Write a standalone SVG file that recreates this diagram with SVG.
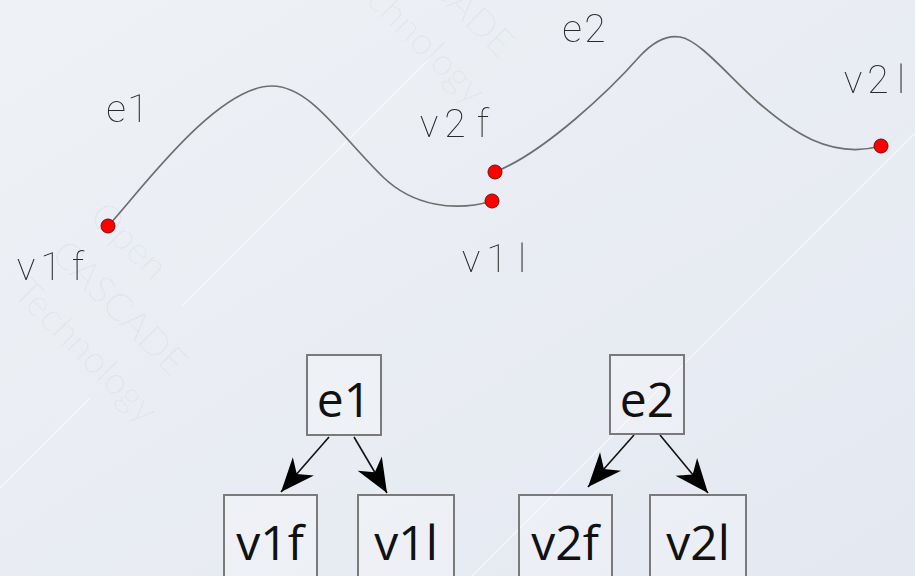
<svg xmlns="http://www.w3.org/2000/svg" width="915" height="576" viewBox="0 0 915 576">
  <defs>
    <linearGradient id="bg" x1="0" y1="0" x2="1" y2="1">
      <stop offset="0" stop-color="#eef1f5"/>
      <stop offset="1" stop-color="#e4e8f1"/>
    </linearGradient>
    <filter id="flat" x="0" y="0" width="1" height="1">
      <feOffset dx="0" dy="0"/>
    </filter>
    <marker id="arrow" viewBox="-37 -16 39 32" refX="0" refY="0" markerWidth="39" markerHeight="32" markerUnits="userSpaceOnUse" orient="auto">
      <path d="M0,0 L-34,-14 L-24,0 L-34,14 Z" fill="#000"/>
    </marker>
    <style>
      .wm { font-family: "Lato", "Open Sans", sans-serif; font-weight: 300; font-size: 38px; fill: #000; fill-opacity: 0.04; }
      .wmline { stroke: #ffffff; stroke-opacity: 0.55; stroke-width: 1.5; fill: none; }
      .curve { fill: none; stroke: #6e6e6e; stroke-width: 1.7; stroke-linecap: round; }
      .vertex { fill: #ff0000; stroke: #7a0a0a; stroke-width: 1; }
      .lbl { font-family: "Roboto", "DejaVu Sans", sans-serif; font-weight: 100; font-size: 39px; fill: #2a2a2a; text-anchor: middle; }
      .box { fill: #ffffff; fill-opacity: 0.25; stroke: #7a7a7a; stroke-width: 2; }
      .boxtxt { font-family: "Open Sans", "Noto Sans", sans-serif; font-size: 48px; fill: #111; text-anchor: middle; }
      .edge { stroke: #111; stroke-width: 1.6; fill: none; marker-end: url(#arrow); }
    </style>
  </defs>

  <!-- background -->
  <rect width="915" height="576" fill="url(#bg)"/>

  <!-- faint diagonal watermark -->
  <g id="watermark">
    <path class="wmline" d="M430,58 L182,306 M90,398 L0,488"/>
    <path class="wmline" d="M915,133 L470,578"/>
    <g transform="rotate(45)">
      <text class="wm" x="216" y="92">Open</text>
      <text class="wm" x="216" y="146">CASCADE</text>
      <text class="wm" x="216" y="200">Technology</text>
      <text class="wm" x="222" y="-311">CASCADE</text>
      <text class="wm" x="222" y="-257">Technology</text>
    </g>
  </g>

  <!-- edge curves -->
  <g id="curves">
    <path id="curve-e1" class="curve" d="M108,226 C135,198 215,86 272,86 C310,86 340,135 383,177 C413,206 455,212 492,201"/>
    <path id="curve-e2" class="curve" d="M495,172 C545,152 610,90 640,56 C655,40 668,35 680,37 C700,40 730,78 760,104 C790,130 830,160 881,146"/>
  </g>

  <!-- vertices -->
  <g id="vertices">
    <circle id="pt-v1f" class="vertex" cx="108" cy="226" r="7"/>
    <circle id="pt-v1l" class="vertex" cx="492" cy="201" r="7"/>
    <circle id="pt-v2f" class="vertex" cx="495" cy="172" r="7"/>
    <circle id="pt-v2l" class="vertex" cx="881" cy="146" r="7"/>
  </g>

  <!-- curve labels, monospaced cells -->
  <g id="labels" filter="url(#flat)">
    <text class="lbl" x="116 138" y="122">e1</text>
    <text class="lbl" x="26 51 78" y="280">v1f</text>
    <text class="lbl" x="429 455 483" y="137">v2f</text>
    <text class="lbl" x="471 497 522" y="272">v1l</text>
    <text class="lbl" x="572 595" y="42">e2</text>
    <text class="lbl" x="853 878 901" y="93">v2l</text>
  </g>

  <!-- topology tree connectors -->
  <g id="connectors">
    <line class="edge" x1="329" y1="437" x2="281" y2="492"/>
    <line class="edge" x1="354" y1="437" x2="387" y2="493"/>
    <line class="edge" x1="634" y1="435" x2="588" y2="487"/>
    <line class="edge" x1="660" y1="435" x2="708" y2="493"/>
  </g>

  <!-- topology tree nodes -->
  <g id="node-e1">
    <rect class="box" x="307" y="355" width="74" height="80"/>
    <text class="boxtxt" x="344" y="417">e1</text>
  </g>
  <g id="node-v1f">
    <rect class="box" x="224" y="495" width="93" height="90"/>
    <text class="boxtxt" x="270" y="560">v1f</text>
  </g>
  <g id="node-v1l">
    <rect class="box" x="358" y="495" width="96" height="90"/>
    <text class="boxtxt" x="406" y="560">v1l</text>
  </g>
  <g id="node-e2">
    <rect class="box" x="610" y="355" width="74" height="79"/>
    <text class="boxtxt" x="647" y="417">e2</text>
  </g>
  <g id="node-v2f">
    <rect class="box" x="519" y="495" width="93" height="90"/>
    <text class="boxtxt" x="565" y="560">v2f</text>
  </g>
  <g id="node-v2l">
    <rect class="box" x="650" y="495" width="96" height="90"/>
    <text class="boxtxt" x="698" y="560">v2l</text>
  </g>
</svg>
